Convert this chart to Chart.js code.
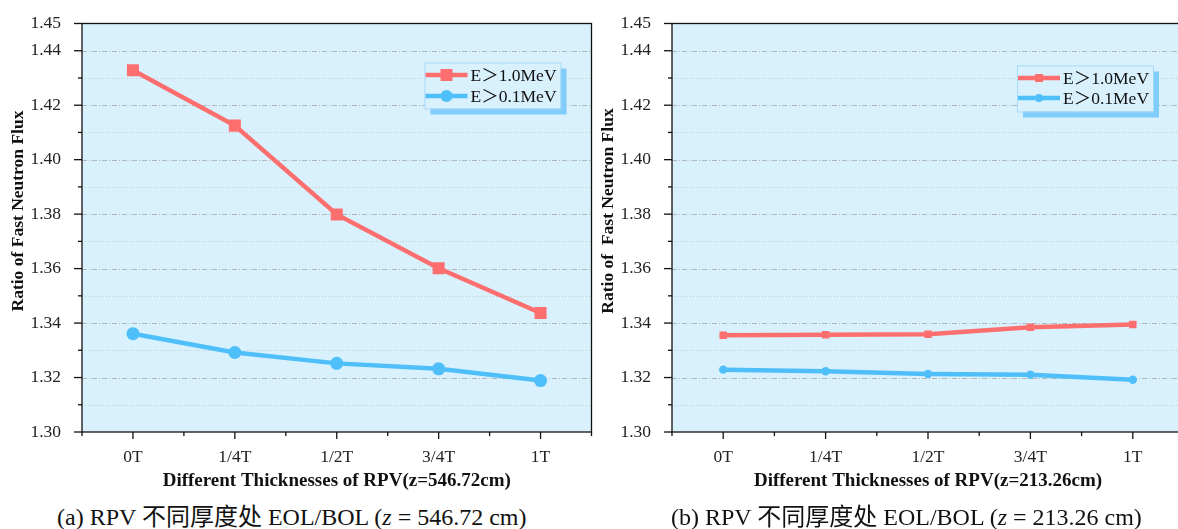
<!DOCTYPE html>
<html>
<head>
<meta charset="utf-8">
<script src="https://cdn.jsdelivr.net/npm/chart.js@4.4.1/dist/chart.umd.min.js"></script>
<style>
  html, body { margin: 0; padding: 0; background: #fff; }
  body { width: 1178px; height: 529px; position: relative; overflow: hidden; }
  canvas { position: absolute; top: 0; }
  #chartA { left: 0; }
  #chartB { left: 590px; }
  .caption {
    position: absolute; top: 502px;
    font-family: 'Liberation Serif', 'Noto Sans CJK SC', serif;
    font-size: 24px; line-height: 30px; color: #111; white-space: pre;
  }
</style>
</head>
<body>
<canvas id="chartA" width="600" height="492"></canvas>
<canvas id="chartB" width="600" height="492"></canvas>
<div class="caption" style="left:57px">(a) RPV 不同厚度处 EOL/BOL (<i>z</i> = 546.72 cm)</div>
<div class="caption" style="left:671px">(b) RPV 不同厚度处 EOL/BOL (<i>z</i> = 213.26 cm)</div>
<script>
// chart data
const thickness = ['0T', '1/4T', '1/2T', '3/4T', '1T'];
const seriesNames = ['E＞1.0MeV', 'E＞0.1MeV'];

// (a) z = 546.72 cm
const fluxA_1MeV = [1.4328, 1.4125, 1.3799, 1.3601, 1.3437];
const fluxA_01MeV = [1.3361, 1.3292, 1.3252, 1.3232, 1.3189];

// (b) z = 213.26 cm
const fluxB_1MeV = [1.3355, 1.3357, 1.3359, 1.3385, 1.3395];
const fluxB_01MeV = [1.3229, 1.3223, 1.3213, 1.3210, 1.3192];

const yMin = 1.30;
const yMax = 1.45;
const yStep = 0.01;

const RED = '#fd6f6f';
const BLUE = '#4fbff9';
const PLOT_BG = '#d9f1fd';

Chart.defaults.font.family = "'Liberation Serif', 'Times New Roman', serif";
Chart.defaults.color = '#222';

// draws plot background, grid, frame, ticks, y title and the boxed legend
const plotDecor = {
    id: 'plotDecor',
    beforeDraw(chart) {
        const a = chart.chartArea;
        const ctx = chart.ctx;
        ctx.save();
        ctx.fillStyle = PLOT_BG;
        ctx.fillRect(a.left, a.top, a.right - a.left, a.bottom - a.top);
        ctx.restore();
    },
    beforeDatasetsDraw(chart) {
        const a = chart.chartArea;
        const ctx = chart.ctx;
        const ys = chart.scales.y;
        ctx.save();
        ys.ticks.forEach((t, i) => {
            if (i === 0 || i === ys.ticks.length - 1) return;
            const y = Math.round(ys.getPixelForValue(t.value)) + 0.5;
            if (i % 2 === 0) {
                ctx.strokeStyle = '#b0b6ba';
                ctx.setLineDash([5, 2, 1, 2]);
            } else {
                ctx.strokeStyle = '#c3cacd';
                ctx.setLineDash([1, 2]);
            }
            ctx.lineWidth = 1;
            ctx.beginPath();
            ctx.moveTo(a.left, y);
            ctx.lineTo(a.right, y);
            ctx.stroke();
        });
        ctx.restore();
    },
    afterDatasetsDraw(chart, args, opts) {
        const a = chart.chartArea;
        const ctx = chart.ctx;
        const ys = chart.scales.y;
        const xs = chart.scales.x;
        ctx.save();
        ctx.setLineDash([]);
        ctx.strokeStyle = '#111';
        ctx.lineWidth = 1.3;
        ctx.strokeRect(a.left, a.top, a.right - a.left, a.bottom - a.top);

        // y ticks
        ys.ticks.forEach((t, i) => {
            const y = ys.getPixelForValue(t.value);
            const major = i % 2 === 0 || i === ys.ticks.length - 1;
            ctx.beginPath();
            ctx.moveTo(a.left, y);
            ctx.lineTo(a.left - (major ? 8 : 4), y);
            ctx.stroke();
        });
        // x ticks
        const n = xs.getLabels().length;
        for (let i = 0; i < n; i++) {
            const x = xs.getPixelForValue(i);
            ctx.beginPath();
            ctx.moveTo(x, a.bottom);
            ctx.lineTo(x, a.bottom + 7);
            ctx.stroke();
        }
        for (let i = 0; i <= n; i++) {
            const x = a.left + (a.right - a.left) * i / n;
            ctx.beginPath();
            ctx.moveTo(x, a.bottom);
            ctx.lineTo(x, a.bottom + 4);
            ctx.stroke();
        }

        // y axis title, sits a little above the middle like the original
        ctx.save();
        ctx.translate(18, opts.yTitleMid);
        ctx.rotate(-Math.PI / 2);
        ctx.fillStyle = '#111';
        ctx.font = "bold 17.5px 'Liberation Serif', serif";
        ctx.textAlign = 'center';
        ctx.textBaseline = 'middle';
        ctx.fillText(opts.yTitle, 0, 0);
        ctx.restore();

        // legend box
        const bx = a.right - opts.right - opts.w;
        const by = a.top + opts.top;
        ctx.fillStyle = '#80ccfa';
        ctx.fillRect(bx + 6, by + 6, opts.w, opts.h);
        ctx.fillStyle = PLOT_BG;
        ctx.fillRect(bx, by, opts.w, opts.h);
        ctx.strokeStyle = '#a6daf7';
        ctx.lineWidth = 1;
        ctx.strokeRect(bx + 0.5, by + 0.5, opts.w, opts.h);

        chart.data.datasets.forEach((ds, i) => {
            const ry = by + opts.rows[i];
            ctx.strokeStyle = ds.borderColor;
            ctx.lineWidth = ds.borderWidth;
            ctx.beginPath();
            ctx.moveTo(bx + 1, ry);
            ctx.lineTo(bx + 43, ry);
            ctx.stroke();
            const mx = bx + 22;
            ctx.fillStyle = ds.borderColor;
            if (ds.pointStyle === 'rect') {
                const s = opts.square;
                ctx.fillRect(mx - s / 2, ry - s / 2, s, s);
            } else {
                ctx.beginPath();
                ctx.arc(mx, ry, opts.circle, 0, Math.PI * 2);
                ctx.fill();
            }
            ctx.fillStyle = '#111';
            ctx.font = "17.5px 'Liberation Serif', 'Noto Sans CJK SC', serif";
            ctx.textBaseline = 'middle';
            ctx.textAlign = 'left';
            ctx.fillText(ds.label, bx + 46, ry + 1);
        });
        ctx.restore();
    }
};

function makeChart(id, xTitle, dataHi, dataLo, marks, decor) {
    return new Chart(document.getElementById(id), {
        type: 'line',
        data: {
            labels: thickness,
            datasets: [{
                label: seriesNames[0],
                data: dataHi,
                borderColor: RED,
                backgroundColor: RED,
                borderWidth: 4.5,
                pointStyle: 'rect',
                pointRadius: marks.rect,
                pointBorderWidth: 0,
                tension: 0
            }, {
                label: seriesNames[1],
                data: dataLo,
                borderColor: BLUE,
                backgroundColor: BLUE,
                borderWidth: 4.5,
                pointStyle: 'circle',
                pointRadius: marks.circle,
                pointBorderWidth: 0,
                tension: 0
            }]
        },
        options: {
            responsive: false,
            animation: false,
            devicePixelRatio: 1,
            layout: { padding: { left: 0, right: 6, top: 19, bottom: 0 } },
            plugins: {
                legend: { display: false },
                tooltip: { enabled: false },
                plotDecor: decor
            },
            scales: {
                x: {
                    type: 'category',
                    offset: true,
                    grid: { display: false },
                    border: { display: false },
                    ticks: { padding: 7, font: { size: 17.5 }, color: '#222', maxRotation: 0 },
                    title: {
                        display: true, text: xTitle,
                        font: { size: 19, weight: 'bold' }, color: '#111',
                        padding: { top: 4, bottom: 0 }
                    },
                    afterFit(s) { s.height = 60; }
                },
                y: {
                    min: yMin, max: yMax,
                    grid: { display: false },
                    border: { display: false },
                    ticks: {
                        stepSize: yStep, autoSkip: false, padding: 13,
                        font: { size: 17.5 }, color: '#222',
                        callback(v, i, ticks) {
                            return (i % 2 === 0 || i === ticks.length - 1) ? v.toFixed(2) : '';
                        }
                    },
                    afterFit(s) { s.width = 82; }
                }
            }
        },
        plugins: [plotDecor]
    });
}

makeChart('chartA', 'Different Thicknesses of RPV(z=546.72cm)',
    fluxA_1MeV, fluxA_01MeV, { rect: 8.5, circle: 6.5 },
    { right: 31, top: 39, w: 136, h: 46, rows: [12.5, 33.5], square: 12, circle: 6,
      yTitle: 'Ratio of Fast Neutron Flux', yTitleMid: 211 });

makeChart('chartB', 'Different Thicknesses of RPV(z=213.26cm)',
    fluxB_1MeV, fluxB_01MeV, { rect: 5.3, circle: 4.2 },
    { right: 31, top: 42, w: 136, h: 46, rows: [12.5, 32.5], square: 8, circle: 4,
      yTitle: 'Ratio of  Fast Neutron Flux', yTitleMid: 211 });
</script>
</body>
</html>
